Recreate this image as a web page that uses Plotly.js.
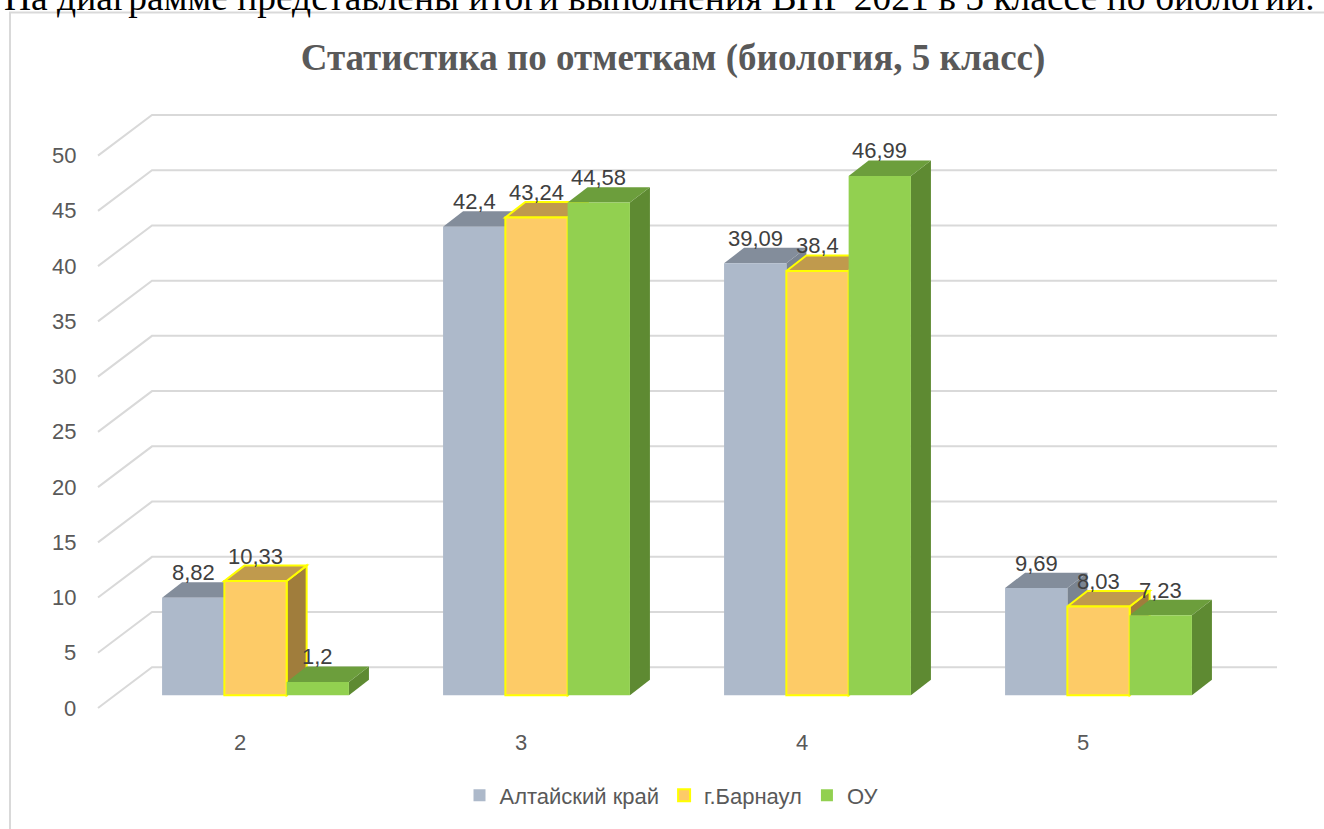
<!DOCTYPE html>
<html>
<head>
<meta charset="utf-8">
<script src="https://cdn.plot.ly/plotly-3.0.1.min.js"></script>
<style>html,body{margin:0;padding:0;background:#fff;}#chart{width:1324px;height:829px;}</style>
</head>
<body>
<div id="chart"></div>
<script>
// ---- data ----
const categories = ['2', '3', '4', '5'];
const seriesNames = ['Алтайский край', 'г.Барнаул', 'ОУ'];
const altaiValues = [8.82, 42.4, 39.09, 9.69];
const barnaulValues = [10.33, 43.24, 38.4, 8.03];
const ouValues = [1.2, 44.58, 46.99, 7.23];
const yTickValues = [0, 5, 10, 15, 20, 25, 30, 35, 40, 45, 50];
const chartTitle = 'Статистика по отметкам (биология, 5 класс)';
const pageText = 'На диаграмме представлены итоги выполнения ВПР 2021 в 5 классе по биологии.';

// ---- styles ----
const frontColors = ['#ADB9CA', '#FDCB67', '#92D050'];
const topColors = ['#838D9B', '#C09A4D', '#6C9E3C'];
const sideColors = ['#7A8491', '#A07D3C', '#5E8A32'];
const edgeColors = [null, '#FFFF00', null];
const gridColor = '#D9D9D9';
const textColor = '#595959';
const sansFont = 'Liberation Sans, Arial, sans-serif';
const serifFont = 'Liberation Serif, Times New Roman, serif';

// ---- geometry (pixels) ----
const L = 90, R = 1290, T = 100, B = 720;
const catPx = 281;          // px per category
const zeroPx = 699;         // bar baseline
const unitPx = 11.12;       // px per value unit
const firstCatPx = 255.5;
const xmin = -(firstCatPx - L) / catPx;
const xmax = xmin + (R - L) / catPx;
const ymin = -(B - zeroPx) / unitPx;
const ymax = ymin + (B - T) / unitPx;
const pxToX = px => xmin + (px - L) / catPx;
const paperX = px => (px - L) / (R - L);
const paperY = py => (B - py) / (B - T);

const bargap = 0.335;
const barW = (1 - bargap) / 3;
const depthX = 20 / catPx;
const depthY = 15.5 / unitPx;

const allSeries = [altaiValues, barnaulValues, ouValues];
const fmt = v => String(v).replace('.', ',');

// ---- traces ----
const traces = allSeries.map((vals, s) => ({
  type: 'bar',
  name: seriesNames[s],
  x: categories.map((c, i) => i),
  y: vals,
  marker: {
    color: frontColors[s],
    line: {color: edgeColors[s] || frontColors[s], width: edgeColors[s] ? 2 : 0}
  },
  hoverinfo: 'skip'
}));

// ---- shapes ----
const shapes = [];
// frame
shapes.push({type: 'rect', xref: 'paper', yref: 'paper',
  x0: paperX(10), x1: paperX(1360), y0: paperY(12), y1: paperY(880),
  line: {color: gridColor, width: 2}, fillcolor: 'rgba(0,0,0,0)', layer: 'below'});
// back wall gridlines
const frontOff = (zeroPx - 712) / unitPx;
const backOff = (zeroPx - 671) / unitPx;
yTickValues.forEach(v => {
  shapes.push({type: 'path', xref: 'x', yref: 'y', layer: 'below',
    path: `M ${pxToX(98)},${v + frontOff} L ${pxToX(152)},${v + backOff} L ${pxToX(1277)},${v + backOff}`,
    line: {color: gridColor, width: 2}});
});
// 3D faces
categories.forEach((c, i) => {
  allSeries.forEach((vals, s) => {
    const v = vals[i];
    const xc = i + (s - 1) * barW;
    const xl = xc - barW / 2, xr = xc + barW / 2;
    const edge = edgeColors[s] ? {color: edgeColors[s], width: 2} : {width: 0};
    shapes.push({type: 'path', xref: 'x', yref: 'y', layer: 'below',
      path: `M ${xr},0 L ${xr},${v} L ${xr + depthX},${v + depthY} L ${xr + depthX},${depthY} Z`,
      fillcolor: sideColors[s], line: edge});
    shapes.push({type: 'path', xref: 'x', yref: 'y', layer: 'below',
      path: `M ${xl},${v} L ${xr},${v} L ${xr + depthX},${v + depthY} L ${xl + depthX},${v + depthY} Z`,
      fillcolor: topColors[s], line: edge});
  });
});

// ---- annotations ----
const annotations = [];
categories.forEach((c, i) => {
  allSeries.forEach((vals, s) => {
    const xc = i + (s - 1) * barW;
    annotations.push({x: xc, y: vals[i], xref: 'x', yref: 'y', text: fmt(vals[i]),
      showarrow: false, yanchor: 'middle', yshift: 25,
      font: {family: sansFont, size: 22, color: '#404040'}});
  });
});
yTickValues.forEach(v => {
  annotations.push({x: paperX(78), xref: 'paper', y: v + frontOff, yref: 'y', text: String(v),
    showarrow: false, xanchor: 'right', yanchor: 'middle',
    font: {family: sansFont, size: 22, color: textColor}});
});
annotations.push({x: paperX(659), xref: 'paper', y: paperY(19), yref: 'paper', text: pageText,
  showarrow: false, xanchor: 'center', yanchor: 'bottom',
  font: {family: serifFont, size: 37.5, color: '#000'}});

const layout = {
  width: 1324, height: 829,
  margin: {l: L, r: 1324 - R, t: T, b: 829 - B, pad: 0},
  paper_bgcolor: '#fff', plot_bgcolor: 'rgba(0,0,0,0)',
  title: {text: chartTitle, x: paperX(673), xref: 'paper', xanchor: 'center',
    y: 1 - 57 / 829, yref: 'container', yanchor: 'middle',
    font: {family: serifFont, size: 37, color: textColor, weight: 'bold'}},
  barmode: 'group', bargap: bargap, bargroupgap: 0,
  xaxis: {range: [xmin, xmax], showgrid: false, zeroline: false, showline: false,
    tickmode: 'array', tickvals: categories.map((c, i) => i - 15.5 / catPx), ticktext: categories,
    ticks: '', ticklabelstandoff: 11,
    tickfont: {family: sansFont, size: 22, color: textColor}, fixedrange: true},
  yaxis: {range: [ymin, ymax], showgrid: false, zeroline: false, showline: false,
    showticklabels: false, ticks: '', fixedrange: true},
  showlegend: true,
  legend: {orientation: 'h', x: paperX(672), xanchor: 'center', y: paperY(800), yanchor: 'middle',
    font: {family: sansFont, size: 22, color: textColor},
    bgcolor: 'rgba(0,0,0,0)', itemclick: false, traceorder: 'normal'},
  shapes: shapes,
  annotations: annotations
};

Plotly.newPlot('chart', traces, layout, {displayModeBar: false, staticPlot: true});
</script>
</body>
</html>
